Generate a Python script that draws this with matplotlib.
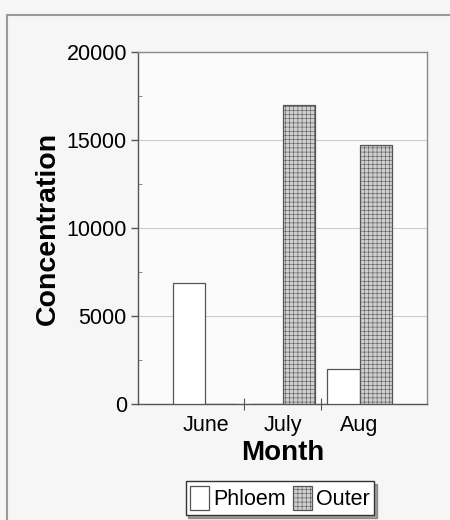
import numpy as np
import matplotlib
matplotlib.use('Agg')
from matplotlib import pyplot as plt
from matplotlib.patches import Rectangle

# -- Dados --
meses   = ['June', 'July', 'Aug']
phloem  = [6900, 0, 2000]
outer   = [0, 17000, 14700]
yticks  = [0, 5000, 10000, 15000, 20000]

plt.rcParams['font.family'] = ['Liberation Sans', 'DejaVu Sans']
plt.rcParams['hatch.color'] = '#b4b4b4'
plt.rcParams['hatch.linewidth'] = 0.4

fig = plt.figure(figsize=(4.5, 5.2), dpi=100, facecolor='#f6f6f6')

# moldura externa da página escaneada
fig.patches.append(Rectangle((7/450, -0.1), 1.2, 1.1 - 15/520, transform=fig.transFigure,
                             fill=False, edgecolor='#9a9a9a', linewidth=1.5))

ax = fig.add_axes([138/450, 1 - 404/520, (427 - 138)/450, (404 - 52)/520])
ax.set_facecolor('#fbfbfb')

x = np.arange(len(meses))
largura = 0.42
ax.bar(x - largura/2, phloem, largura, color='white', edgecolor='#555555',
       linewidth=0.9, label='Phloem', zorder=3)
ax.bar(x + largura/2, outer, largura, color='#d0d0d0', edgecolor='#555555',
       linewidth=0.9, hatch='++++', label='Outer', zorder=3)

ax.set_xlim(-0.875, 2.875)
ax.set_ylim(0, 20000)
ax.set_yticks(yticks)
ax.set_yticks(np.arange(2500, 20000, 5000), minor=True)
ax.tick_params(axis='y', which='major', labelsize=15.5, length=5, width=1,
               color='#555555', pad=3)
ax.tick_params(axis='y', which='minor', length=3, direction='in', color='#777777')

# rótulos das categorias nos ticks menores, marcas nas divisões
ax.set_xticks([0.5, 1.5])
ax.set_xticklabels(['', ''])
ax.set_xticks(x, minor=True)
ax.set_xticklabels(meses, minor=True)
ax.tick_params(axis='x', which='major', length=8, direction='inout', color='#555555')
ax.tick_params(axis='x', which='minor', length=0, labelsize=15.5, pad=8)

ax.grid(axis='y', color='#cccccc', linewidth=0.8, zorder=0)
for s in ax.spines.values():
    s.set_color('#8a8a8a')
    s.set_linewidth(1)
ax.spines['left'].set_color('#555555')
ax.spines['bottom'].set_color('#555555')

ax.set_xlabel('Month', fontsize=20, fontweight='bold', labelpad=3)
ax.set_ylabel('Concentration', fontsize=20.5, fontweight='bold', labelpad=4)

leg = fig.legend(loc='center', bbox_to_anchor=(280/450, 1 - 498/520), ncol=2,
                 fontsize=15.5, frameon=True, fancybox=False, shadow=True,
                 handlelength=0.9, handleheight=1.4, handletextpad=0.2,
                 columnspacing=0.3, borderpad=0.2, borderaxespad=0)
leg.get_frame().set_edgecolor('#333333')
leg.get_frame().set_linewidth(1)

plt.savefig('out.png', dpi=100, facecolor=fig.get_facecolor())
